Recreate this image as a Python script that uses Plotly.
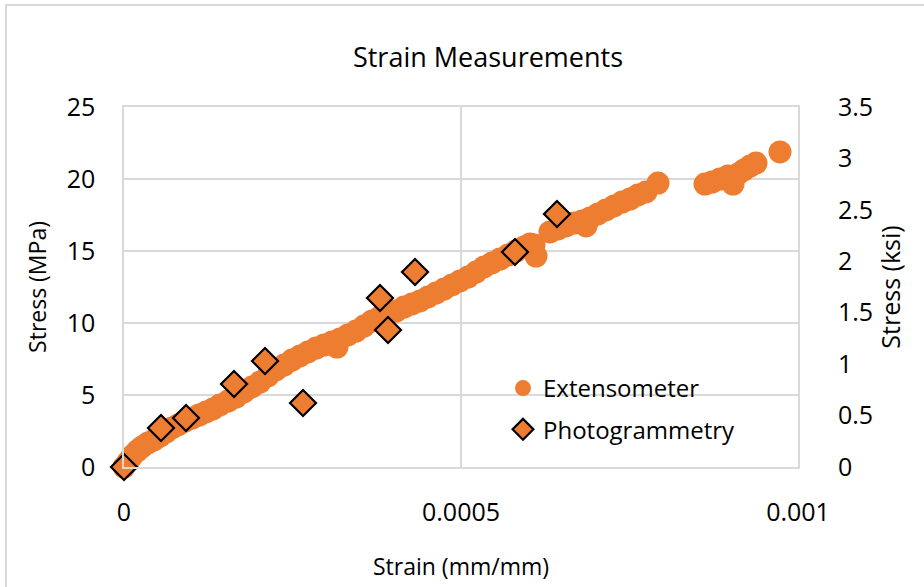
import plotly.graph_objects as go

# Extensometer readings (strain mm/mm, stress MPa)
ext_strain = [0, 0.0000059, 0.0000119, 0.0000193, 0.0000267, 0.0000356, 0.0000445, 0.0000534,
              0.0000623, 0.0000712, 0.0000801, 0.0000905, 0.0001009, 0.0001113, 0.0001217, 0.0001320,
              0.0001424, 0.0001543, 0.0001662, 0.0001780, 0.0001899, 0.0002018, 0.0002136, 0.0002255,
              0.0002374, 0.0002493, 0.0002611, 0.0002730, 0.0002849, 0.0002967, 0.0003086, 0.0003160,
              0.0003205, 0.0003323, 0.0003442, 0.0003561, 0.0003680, 0.0003798, 0.0003917, 0.0004036,
              0.0004154, 0.0004273, 0.0004392, 0.0004510, 0.0004629, 0.0004748, 0.0004866, 0.0004985,
              0.0005104, 0.0005223, 0.0005341, 0.0005460, 0.0005579, 0.0005697, 0.0005816, 0.0005935,
              0.0006024, 0.0006083, 0.0006068, 0.0006113, 0.0006320, 0.0006439, 0.0006558, 0.0006677,
              0.0006795, 0.0006855, 0.0006914, 0.0007033, 0.0007151, 0.0007270, 0.0007389, 0.0007507,
              0.0007626, 0.0007745, 0.0007923, 0.0008620, 0.0008724, 0.0008843, 0.0008961, 0.0009036,
              0.0009110, 0.0009199, 0.0009288, 0.0009377, 0.0009733]
ext_stress = [0, 0.35, 0.76, 1.11, 1.39, 1.67, 1.88, 2.15,
              2.43, 2.71, 2.92, 3.19, 3.40, 3.61, 3.82, 4.03,
              4.31, 4.58, 4.86, 5.21, 5.56, 5.90, 6.32, 6.74,
              7.08, 7.43, 7.71, 7.99, 8.26, 8.47, 8.68, 8.33,
              8.89, 9.17, 9.44, 9.79, 10.14, 10.42, 10.63, 10.83,
              11.11, 11.32, 11.53, 11.81, 12.08, 12.36, 12.64, 12.92,
              13.19, 13.54, 13.89, 14.17, 14.44, 14.72, 15.00, 15.28,
              15.49, 15.42, 15.07, 14.65, 16.32, 16.53, 16.74, 16.94,
              17.08, 16.74, 17.29, 17.57, 17.85, 18.13, 18.40, 18.61,
              18.89, 19.10, 19.72, 19.65, 19.79, 20.00, 20.21, 19.65,
              20.35, 20.63, 20.90, 21.11, 21.88]

# Photogrammetry readings
photo_strain = [0, 0.0000549, 0.0000920, 0.0001632, 0.0002092, 0.0002656,
                0.0003798, 0.0003917, 0.0004318, 0.0005801, 0.0006424]
photo_stress = [0, 2.71, 3.40, 5.76, 7.36, 4.44, 11.74, 9.51, 13.54, 14.93, 17.57]

x_ticks = [0, 0.0005, 0.001]
x_tick_text = ["0", "0.0005", "0.001"]
y_ticks = [0, 5, 10, 15, 20, 25]
y2_ticks = [0, 0.5, 1, 1.5, 2, 2.5, 3, 3.5]
y2_tick_text = ["0", "0.5", "1", "1.5", "2", "2.5", "3", "3.5"]

ORANGE = "#ED7D31"
GRID = "#d9d9d9"
FONT = "Open Sans"

fig = go.Figure()
fig.add_trace(go.Scatter(
    x=ext_strain, y=ext_stress, mode="markers", name="Extensometer", cliponaxis=False,
    legendgroup="ext",
    marker=dict(symbol="circle", size=23, color=ORANGE, line=dict(width=0)),
))
fig.add_trace(go.Scatter(
    x=photo_strain, y=photo_stress, mode="markers", name="Photogrammetry", cliponaxis=False,
    legendgroup="photo",
    marker=dict(symbol="diamond", size=20, color=ORANGE, line=dict(width=2.2, color="black")),
))
# helper so the secondary (ksi) axis is drawn
fig.add_trace(go.Scatter(x=[None], y=[None], yaxis="y2", showlegend=False, hoverinfo="skip"))

fig.update_layout(
    width=924, height=587,
    margin=dict(l=124, r=126, t=107, b=120),
    paper_bgcolor="white", plot_bgcolor="white",
    font=dict(family=FONT, color="#000000", size=24),
    title=dict(text="Strain Measurements", font=dict(size=27, family=FONT, color="#000000"),
               x=488 / 924, xref="container", xanchor="center",
               y=1 - 58 / 587, yref="container", yanchor="middle"),
    xaxis=dict(range=[0, 0.001], tickvals=x_ticks, ticktext=x_tick_text,
               showgrid=True, gridcolor=GRID, gridwidth=1.5, zeroline=False,
               showline=True, linecolor=GRID, linewidth=1.5, mirror=True,
               ticks="outside", ticklen=22, tickcolor="rgba(0,0,0,0)",
               tickfont=dict(size=25),
               title=dict(text="Strain (mm/mm)", font=dict(size=23), standoff=32)),
    yaxis=dict(range=[0, 25], tickvals=y_ticks,
               showgrid=True, gridcolor=GRID, gridwidth=1.5, zeroline=False,
               showline=True, linecolor=GRID, linewidth=1.5, mirror=True,
               ticks="outside", ticklen=22, tickcolor="rgba(0,0,0,0)",
               tickfont=dict(size=25),
               title=dict(text="Stress (MPa)", font=dict(size=23), standoff=14)),
    yaxis2=dict(range=[0, 3.5], tickvals=y2_ticks, ticktext=y2_tick_text,
                overlaying="y", side="right", showgrid=False, zeroline=False,
                showline=False, ticks="outside", ticklen=34, tickcolor="rgba(0,0,0,0)",
                tickfont=dict(size=25),
                title=dict(text="Stress (ksi)", font=dict(size=25), standoff=10)),
    legend=dict(x=(503 - 124) / 674, xanchor="left", y=(467 - 366) / 360, yanchor="top",
                bgcolor="rgba(0,0,0,0)", font=dict(size=24), itemwidth=30,
                traceorder="grouped", tracegroupgap=7),
    showlegend=True,
)

# outer chart-area border
fig.add_shape(type="rect", xref="paper", yref="paper",
              x0=(6 - 124) / 674, x1=(940 - 124) / 674,
              y0=(467 - 600) / 360, y1=(467 - 5) / 360,
              line=dict(color=GRID, width=2), fillcolor="rgba(0,0,0,0)", layer="below")

fig.write_html("out.html", config={"displayModeBar": False},
               post_script="document.body.style.margin='0';document.body.style.overflow='hidden';")
